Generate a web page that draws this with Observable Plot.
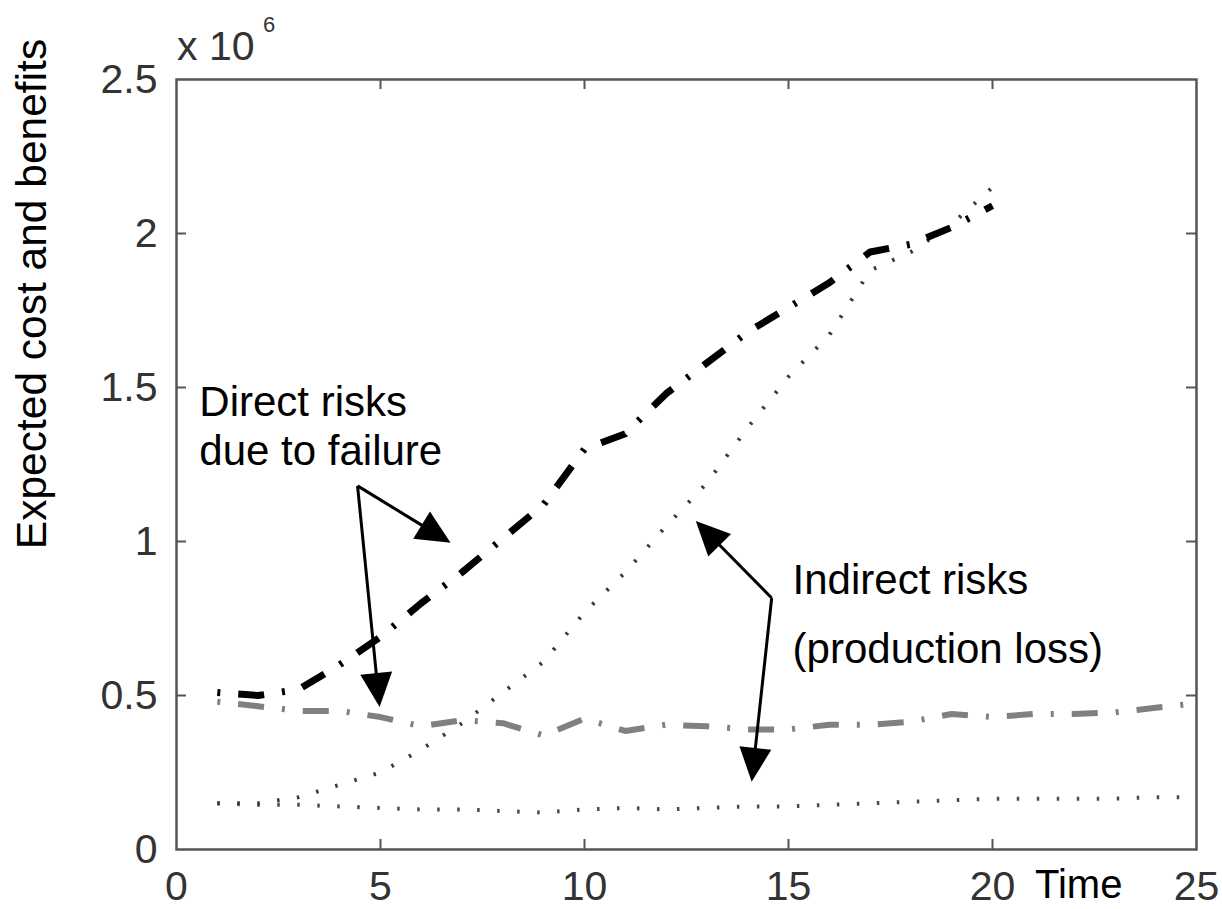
<!DOCTYPE html>
<html>
<head>
<meta charset="utf-8">
<script src="https://cdn.jsdelivr.net/npm/d3@7"></script>
<script src="https://cdn.jsdelivr.net/npm/@observablehq/plot@0.6"></script>
<style>
  body { margin: 0; background: #fff; }
  #chart svg { display: block; }
</style>
</head>
<body>
<div id="chart"></div>
<script>
// ---- data (y values in units of 10^6) ----
const time = [1,2,3,4,5,6,7,8,9,10,11,12,13,14,15,16,17,18,19,20,21,22,23,24,25];
const directRisksUpper = [0.51,0.50,0.52,0.60,0.69,0.80,0.90,1.01,1.12,1.30,1.35,1.48,1.58,1.68,1.76,1.84,1.94,1.965,2.02,2.09];
const indirectRisksUpper = [0.15,0.15,0.17,0.21,0.25,0.325,0.41,0.51,0.61,0.77,0.90,1.05,1.19,1.37,1.535,1.67,1.88,1.94,2.03,2.15];
const directRisksLower = [0.48,0.465,0.45,0.45,0.43,0.40,0.42,0.41,0.37,0.425,0.385,0.405,0.40,0.39,0.39,0.405,0.405,0.415,0.44,0.43,0.44,0.44,0.445,0.46,0.475];
const indirectRisksLower = [0.15,0.145,0.145,0.14,0.135,0.13,0.13,0.125,0.12,0.13,0.135,0.13,0.135,0.14,0.14,0.145,0.15,0.155,0.16,0.165,0.165,0.165,0.165,0.17,0.17];

const xTicks = [0,5,10,15,20,25];
const yTicks = [0,0.5,1,1.5,2,2.5];
const xTickLabels = ["0","5","10","15","20","25"];
const yTickLabels = ["0","0.5","1","1.5","2","2.5"];

const noteLines = ["Direct risks","due to failure","Indirect risks","(production loss)"];
const noteX = [0.56,0.56,15.1,15.1];
const noteY = [1.409,1.247,0.831,0.604];

// arrows: start (vertex) -> tip, in data units
const arrowX1 = [4.45,4.45,14.60,14.60];
const arrowY1 = [1.179,1.179,0.815,0.815];
const arrowX2 = [6.73,4.99,12.74,14.11];
const arrowY2 = [0.994,0.461,1.065,0.218];

// ---- tables ----
const series = (vals) => vals.map((v,i) => ({t: time[i], v}));
const dUp = series(directRisksUpper);
const iUp = series(indirectRisksUpper);
const dLo = series(directRisksLower);
const iLo = series(indirectRisksLower);
const notes = noteLines.map((s,i) => ({s, x: noteX[i], y: noteY[i]}));

const W = 1222, H = 909, ML = 176, MR = 26, MT = 79, MB = 60;
const frameH = H - MT - MB, frameW = W - ML - MR;
const tickLen = 10;
const innerX = xTicks.slice(1, -1), innerY = yTicks.slice(1, -1);

const chart = Plot.plot({
  width: W, height: H,
  marginLeft: ML, marginRight: MR, marginTop: MT, marginBottom: MB,
  style: {fontFamily: "Liberation Sans, Arial, sans-serif", fontSize: "41px", color: "#333", background: "#fff"},
  x: {domain: [0,25], ticks: xTicks, tickFormat: (d) => xTickLabels[xTicks.indexOf(d)], tickSize: 0, tickPadding: 21, label: null},
  y: {domain: [0,2.5], ticks: yTicks, tickFormat: (d) => yTickLabels[yTicks.indexOf(d)], tickSize: 0, tickPadding: 19, label: null},
  marks: [
    // inward ticks
    Plot.tickX(innerX, {x: d => d, insetTop: frameH - tickLen, stroke: "#555", strokeWidth: 2}),
    Plot.tickX(innerX, {x: d => d, insetBottom: frameH - tickLen, stroke: "#555", strokeWidth: 2}),
    Plot.tickY(innerY, {y: d => d, insetRight: frameW - tickLen, stroke: "#555", strokeWidth: 2}),
    Plot.tickY(innerY, {y: d => d, insetLeft: frameW - tickLen, stroke: "#555", strokeWidth: 2}),
    // series
    Plot.line(iLo, {x: "t", y: "v", stroke: "#4a4a4a", strokeWidth: 4, strokeDasharray: "2.5,17.5", strokeLinecap: "butt"}),
    Plot.line(iUp, {x: "t", y: "v", stroke: "#3a3a3a", strokeWidth: 4, strokeDasharray: "2.5,17.5", strokeLinecap: "butt"}),
    Plot.line(dLo, {x: "t", y: "v", stroke: "#808080", strokeWidth: 6, strokeDasharray: "3,18,26,18", strokeLinecap: "butt"}),
    Plot.line(dUp, {x: "t", y: "v", stroke: "#000", strokeWidth: 7, strokeDasharray: "3,18,26,18", strokeLinecap: "butt"}),
    // annotation text
    Plot.text(notes, {x: "x", y: "y", text: "s", textAnchor: "start", lineAnchor: "bottom", fontSize: 42, fill: "#000"}),
    Plot.frame({stroke: "#555", strokeWidth: 2.5})
  ]
});

document.getElementById("chart").append(chart);

// arrows via the plot's own scales
const sx = chart.scale("x"), sy = chart.scale("y");
const px = (v) => sx.apply(v), py = (v) => sy.apply(v);
const svg = d3.select(chart);
const g = svg.append("g").attr("class", "arrows");
const headLen = 34, headHalf = 16;
arrowX1.forEach((_, i) => {
  const x1 = px(arrowX1[i]), y1 = py(arrowY1[i]);
  const x2 = px(arrowX2[i]), y2 = py(arrowY2[i]);
  const dx = x2 - x1, dy = y2 - y1, L = Math.hypot(dx, dy);
  const ux = dx / L, uy = dy / L;
  const bx = x2 - ux * headLen, by = y2 - uy * headLen;
  g.append("line").attr("x1", x1).attr("y1", y1).attr("x2", bx + ux*2).attr("y2", by + uy*2)
    .attr("stroke", "#000").attr("stroke-width", 3);
  g.append("path")
    .attr("d", `M${x2},${y2}L${bx - uy*headHalf},${by + ux*headHalf}L${bx + uy*headHalf},${by - ux*headHalf}Z`)
    .attr("fill", "#000");
});

// exponent note, x label, y label
svg.append("text").attr("x", ML + 1).attr("y", MT - 19).attr("text-anchor", "start")
  .attr("font-size", 41).attr("fill", "#333").text("x 10");
svg.append("text").attr("x", ML + 87).attr("y", MT - 47).attr("text-anchor", "start")
  .attr("font-size", 22).attr("fill", "#333").text("6");
svg.append("text").attr("x", 1035).attr("y", 898).attr("text-anchor", "start")
  .attr("font-size", 40).attr("fill", "#000").text("Time");
svg.append("text").attr("transform", "translate(46,294) rotate(-90)")
  .attr("text-anchor", "middle").attr("font-size", 42.5).attr("fill", "#000")
  .text("Expected cost and benefits");
</script>
</body>
</html>
